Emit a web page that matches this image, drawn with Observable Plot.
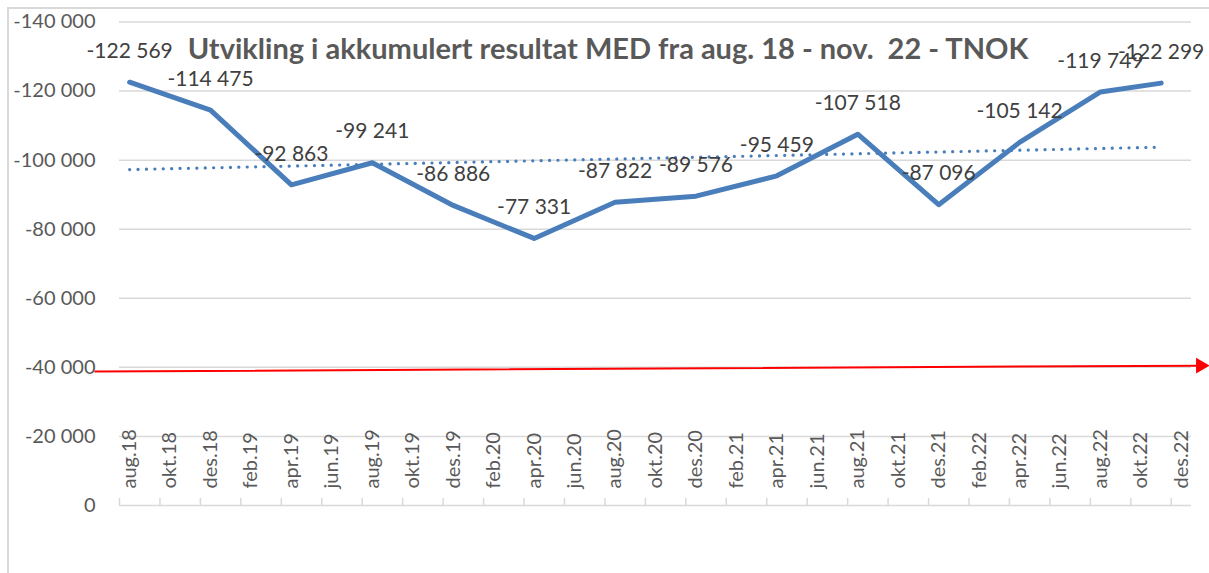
<!DOCTYPE html>
<html><head><meta charset="utf-8">
<script src="https://cdn.jsdelivr.net/npm/d3@7"></script>
<script src="https://cdn.jsdelivr.net/npm/@observablehq/plot@0.6"></script>
<style>
body{margin:0;background:#fff;}
#wrap{position:relative;width:1209px;height:573px;overflow:hidden;font-family:Lato,sans-serif;}
#border{position:absolute;left:7px;top:7px;width:1300px;height:700px;border-left:2px solid #d9d9d9;border-top:2px solid #d9d9d9;}
#chart{position:absolute;left:0;top:0;}
#title{position:absolute;left:0;width:1216px;top:31px;text-align:center;font-family:Lato,sans-serif;font-weight:bold;font-size:29px;line-height:34px;color:#595959;white-space:pre;}
</style></head><body>
<div id="wrap"><div id="border"></div><div id="chart"></div><div id="title">Utvikling i akkumulert resultat MED fra aug. 18 - nov.  22 - TNOK</div></div>
<script>
// Data points (month, accumulated result in TNOK)
const pointMonths = ["2018-08","2018-12","2019-04","2019-08","2019-12","2020-04","2020-08","2020-12","2021-04","2021-08","2021-12","2022-04","2022-08","2022-11"];
const values = [-122569,-114475,-92863,-99241,-86886,-77331,-87822,-89576,-95459,-107518,-87096,-105142,-119749,-122299];
// Axis labels
const xTickLabels = ["aug.18","okt.18","des.18","feb.19","apr.19","jun.19","aug.19","okt.19","des.19","feb.20","apr.20","jun.20","aug.20","okt.20","des.20","feb.21","apr.21","jun.21","aug.21","okt.21","des.21","feb.22","apr.22","jun.22","aug.22","okt.22","des.22"];
const yTicks = [0,-20000,-40000,-60000,-80000,-100000,-120000,-140000];
// Hand-drawn red arrow (month index, value)
const redLine = [{month:-1.2, value:-38800},{month:53.45, value:-40500}];

const startMonth = 2018*12 + 7;
const monthIndex = s => { const [y,m] = s.split("-").map(Number); return y*12 + (m-1) - startMonth; };
const data = pointMonths.map((m,i) => ({x: monthIndex(m) + 0.5, value: values[i]}));
const xTicks = xTickLabels.map((t,i) => ({x: 2*i + 0.5, label: t, boundary: 2*i}));

const loc = d3.formatLocale({decimal: ",", thousands: " ", grouping: [3], currency: ["",""], minus: "-"});
const fmt = loc.format(",");

const lineColor = "#4a7ebb";
const grid = "#d9d9d9";

const chart = Plot.plot({
  width: 1209, height: 573,
  marginTop: 21.5, marginBottom: 68, marginLeft: 119, marginRight: 18,
  style: {fontFamily: "Lato, sans-serif", fontSize: "20px", color: "#595959", background: "transparent"},
  x: {domain: [0, 53], axis: null},
  y: {domain: [0, -140000]},
  marks: [
    Plot.ruleY(yTicks, {stroke: grid, strokeWidth: 1.5}),
    Plot.ruleX(xTicks, {x: "boundary", y1: 0, y2: 0, insetBottom: 7, stroke: grid, strokeWidth: 1.5}),
    Plot.axisY({ticks: yTicks, tickSize: 0, tickPadding: 24, tickFormat: d => fmt(d), label: null}),
    Plot.text(xTicks, {x: "x", y: () => 0, text: "label", rotate: -90, textAnchor: "start", dy: -17, fill: "#595959", fontSize: 20}),
    Plot.linearRegressionY(data, {x: "x", y: "value", stroke: lineColor, strokeWidth: 3.2, strokeDasharray: "0.1 8.3", strokeLinecap: "round", ci: 0}),
    Plot.line(redLine, {x: "month", y: "value", stroke: "#ff0000", strokeWidth: 2}),
    Plot.dot(redLine.slice(-1), {x: "month", y: "value", symbol: "triangle", rotate: 90, r: 5.8, fill: "#ff0000", stroke: null}),
    Plot.line(data, {x: "x", y: "value", stroke: lineColor, strokeWidth: 5, strokeLinejoin: "round", strokeLinecap: "round"}),
    Plot.text(data, {x: "x", y: "value", text: d => fmt(d.value), dy: -31, fill: "#404040", fontSize: 21})
  ]
});
document.getElementById("chart").appendChild(chart);
</script>
</body></html>
